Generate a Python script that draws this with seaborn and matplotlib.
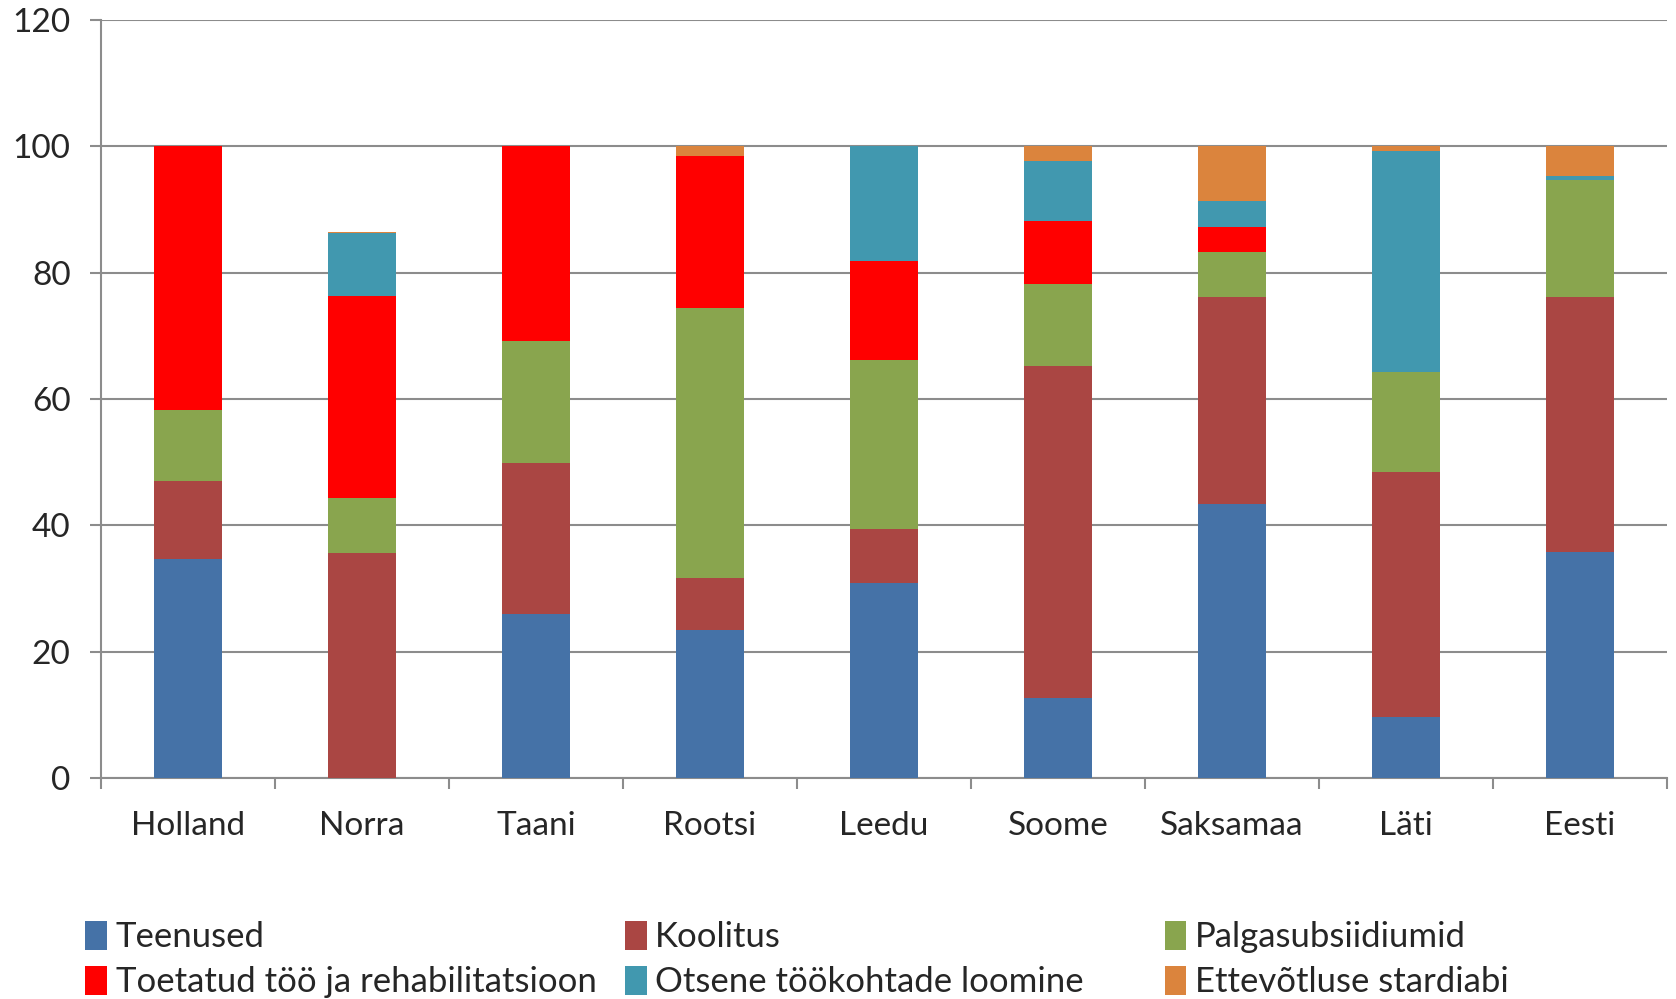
import matplotlib
matplotlib.use("Agg")
import matplotlib.pyplot as plt
from matplotlib.patches import Patch
from matplotlib.ticker import FixedLocator
import seaborn as sns
import pandas as pd
import numpy as np

# countries on the x axis
countries = ['Holland', 'Norra', 'Taani', 'Rootsi', 'Leedu', 'Soome', 'Saksamaa', 'Läti', 'Eesti']

# shares by measure type
teenused = [34.7, 0.0, 26.0, 23.5, 30.9, 12.6, 43.3, 9.6, 35.8]
koolitus = [12.3, 35.6, 23.9, 8.1, 8.5, 52.7, 32.8, 38.8, 40.4]
palgasubs = [11.3, 8.7, 19.3, 42.8, 26.7, 12.9, 7.2, 15.8, 18.4]
toetatud = [41.7, 32.0, 30.8, 24.0, 15.7, 9.9, 4.0, 0.0, 0.0]
otsene = [0.0, 9.9, 0.0, 0.0, 18.2, 9.6, 4.1, 35.0, 0.7]
stardiabi = [0.0, 0.3, 0.0, 1.6, 0.0, 2.3, 8.6, 0.8, 4.7]

series_names = ['Teenused', 'Koolitus', 'Palgasubsiidiumid',
                'Toetatud töö ja rehabilitatsioon', 'Otsene töökohtade loomine',
                'Ettevõtluse stardiabi']
series_vals = [teenused, koolitus, palgasubs, toetatud, otsene, stardiabi]
colors = ['#4572A7', '#AA4643', '#89A54E', '#FF0000', '#4198AF', '#DB843D']

sns.set_style('white')
plt.rcParams['font.family'] = ['Lato', 'DejaVu Sans']

fig = plt.figure(figsize=(16.76, 9.99), dpi=100)
ax = fig.add_axes([0.0603, 0.2212, 0.9343, 0.7588])

bottom = np.zeros(len(countries))
for name, vals, col in zip(series_names, series_vals, colors):
    df = pd.DataFrame({'Riik': countries, 'Osakaal': vals})
    sns.barplot(data=df, x='Riik', y='Osakaal', color=col, width=0.39,
                bottom=bottom, ax=ax, saturation=1, linewidth=0, zorder=3)
    bottom = bottom + np.array(vals)

ax.set_ylim(0, 120)
ax.set_xlim(-0.5, len(countries) - 0.5)
ax.set_yticks(range(0, 121, 20))
ax.yaxis.grid(True, color='#8c8c8c', linewidth=1.5, zorder=0)
ax.set_axisbelow(True)
ax.set_xlabel('')
ax.set_ylabel('')

for s in ['top', 'right']:
    ax.spines[s].set_visible(False)
for s in ['left', 'bottom']:
    ax.spines[s].set_color('#8c8c8c')
    ax.spines[s].set_linewidth(1.5)

ax.tick_params(axis='y', direction='out', length=8, width=1.5, color='#8c8c8c',
               labelsize=24, pad=14, left=True)
ax.tick_params(axis='x', which='major', length=0, labelsize=24, pad=24)
ax.xaxis.set_minor_locator(FixedLocator(np.arange(-0.5, len(countries), 1.0)))
ax.tick_params(axis='x', which='minor', direction='out', length=8, width=1.5,
               color='#8c8c8c', bottom=True)

# legend: three columns of two rows, laid out like the original
col_x = [0.051, 0.373, 0.695]
for i, x in enumerate(col_x):
    idx = [i, i + 3]
    handles = [Patch(facecolor=colors[j], edgecolor='none') for j in idx]
    fig.legend(handles, [series_names[j] for j in idx], loc='upper left',
               bbox_to_anchor=(x, 0.078), frameon=False, fontsize=25,
               handlelength=0.62, handleheight=0.9, handletextpad=0.25,
               labelspacing=0.36, borderaxespad=0, borderpad=0)

fig.savefig('out.png', dpi=100)
